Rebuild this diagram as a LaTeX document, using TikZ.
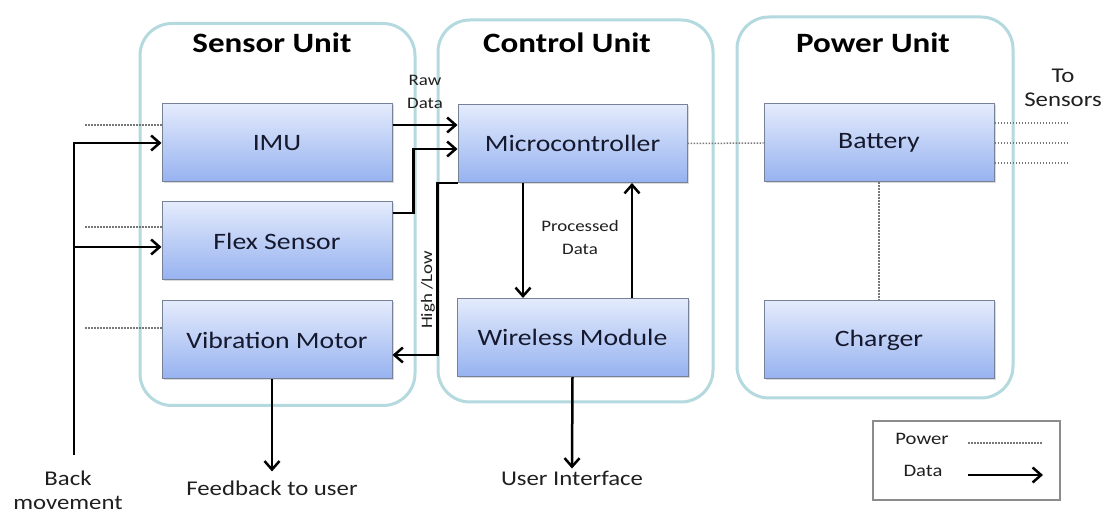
\documentclass[tikz,border=0pt]{standalone}
\usepackage{fontspec}
\setmainfont{Carlito}[FakeStretch=1.18]
\usetikzlibrary{positioning,shadows,arrows.meta}
\definecolor{unitline}{RGB}{180,217,222}
\definecolor{boxtop}{RGB}{228,235,252}
\definecolor{boxbot}{RGB}{150,178,240}
\definecolor{boxline}{RGB}{118,130,152}
\definecolor{boxtext}{RGB}{22,25,45}
\definecolor{dotgray}{RGB}{120,120,120}

\begin{document}
\begin{tikzpicture}
        [x=1pt, y=-1pt,
        every node/.style={font=\fontsize{21}{24}\selectfont, align=center,
        text=black!88, inner sep=2pt},
        unit/.style={draw=unitline, line width=3pt, rounded corners=32pt,
        minimum width=275pt, minimum height=382pt},
        title/.style={font=\fontsize{28}{30}\selectfont\bfseries, text=black},
        block/.style={top color=boxtop, bottom color=boxbot, draw=boxline,
        line width=1pt, minimum width=230pt, minimum height=78pt,
        text=boxtext, font=\fontsize{23.5}{26}\selectfont,
        drop shadow={shadow xshift=1.5pt, shadow yshift=-1.5pt, opacity=.3}},
        small/.style={font=\fontsize{16}{23}\selectfont},
        data/.style={draw=black, line width=2.5pt,
        -{Straight Barb[length=8.5pt,width=15pt]}},
        power/.style={draw=dotgray, line width=1.5pt, dash pattern=on 1.5pt off 1.5pt}]
        \useasboundingbox (0,0) rectangle (1109,518);
        \node[unit] (sensorunit) at (277.5,214.5) {};
        \node[unit] (controlunit) at (575.5,211) {};
        \node[unit, minimum width=276pt, minimum height=381pt] (powerunit) at (875,207.5) {};
        \node[title] (sensortitle) at (272,43) {Sensor Unit};
        \node[title] (controltitle) at (567,43) {Control Unit};
        \node[title] (powertitle) at (873,43) {Power Unit};

        \node[block] (imu) at (277,143) {IMU};
        \node[block] (flex) at (277,241) {Flex Sensor};
        \node[block] (vib) at (277,340) {Vibration Motor};
        \node[block, minimum width=229pt] (mcu) at (572.5,143.5) {Microcontroller};
        \node[block, minimum width=231pt] (wireless) at (572.5,337.5) {Wireless Module};
        \node[block] (battery) at (879,143) {Battery};
        \node[block] (charger) at (879,340) {Charger};

        \node[small] (raw) at (425,92) {Raw\\Data};
        \node[small] (proc) at (580,238) {Processed\\Data};
        \node[small, rotate=90] (hilo) at (428,290) {High /Low};
        \node (tosens) at (1063,88) {To\\Sensors};
        \node (back) at (68,490) {Back\\movement};
        \node (fb) at (272,488) {Feedback to user};
        \node (ui) at (572,478) {User Interface};
        \coordinate (bm) at (74,455);
        \coordinate (fxin) at ([yshift=-6pt]flex.west);

        \draw[data] (bm) |- (imu.west);
        \draw[data] (bm |- fxin) -- (fxin);
        \draw[data] ([yshift=18pt]imu.east) -- ([yshift=18.5pt]mcu.west);
        \draw[data] ([yshift=28pt]flex.east) -- ++(21,0) |- ([yshift=-5.5pt]mcu.west);
        \draw[data] (mcu.south west) -- ++(-20,0) |- ([yshift=-15pt]vib.east);
        \draw[data] ([xshift=-49.5pt]mcu.south) -- ([xshift=-49.5pt]wireless.north);
        \draw[data] ([xshift=59.5pt]wireless.north) -- ([xshift=59.5pt]mcu.south);
        \draw[data] (wireless.south) -- (ui.north);
        \draw[data] (vib.south -| fb) -- ([yshift=7pt]fb.north);

        \draw[power] ([yshift=18pt]imu.west) -- ++(-77,0);
        \draw[power] ([yshift=14pt]flex.west) -- ++(-77,0);
        \draw[power] ([yshift=12pt]vib.west) -- ++(-77,0);
        \draw[power] (mcu.east) -- (battery.west);
        \foreach \dy in {20,0,-20}
            \draw[power] ([yshift=\dy pt]battery.east) -- ++(74,0);
        \draw[power] (battery.south) -- (charger.north);

        \node[draw=black!45, line width=1.5pt, minimum width=187pt,
        minimum height=79pt] (legend) at (966.5,460.5) {};
        \node[font=\fontsize{17.5}{20}\selectfont] (lpower) at (922,439) {Power};
        \node[font=\fontsize{17.5}{20}\selectfont] (ldata) at (923,471) {Data};
        \coordinate (lp1) at (968,443);
        \coordinate (lp2) at (1043,443);
        \coordinate (ld1) at (968,475);
        \coordinate (ld2) at (1043,475);
        \draw[power] (lp1) -- (lp2);
        \draw[data] (ld1) -- (ld2);
\end{tikzpicture}
\end{document}
